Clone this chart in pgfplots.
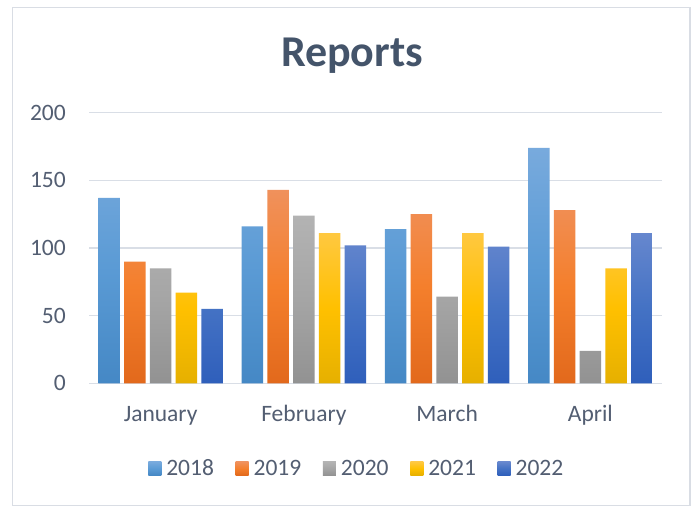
\documentclass[border=0pt]{standalone}
\usepackage{pgfplots}
\pgfplotsset{compat=1.18}
\usepackage{fontspec}
\setmainfont{Carlito}
\definecolor{txt}{HTML}{535E72}
\definecolor{titlec}{HTML}{44546A}
\definecolor{gridc}{HTML}{D9DEE6}
\definecolor{framec}{HTML}{D9DDE4}
\definecolor{aT}{HTML}{78AADD}\definecolor{aM}{HTML}{5B9BD5}\definecolor{aB}{HTML}{4588C5}
\definecolor{bT}{HTML}{F0915C}\definecolor{bM}{HTML}{F47F2C}\definecolor{bB}{HTML}{E2691C}
\definecolor{cT}{HTML}{B3B3B3}\definecolor{cM}{HTML}{A5A5A5}\definecolor{cB}{HTML}{929292}
\definecolor{dT}{HTML}{FFC840}\definecolor{dM}{HTML}{FFC000}\definecolor{dB}{HTML}{E6B000}
\definecolor{eT}{HTML}{6687CE}\definecolor{eM}{HTML}{4472C4}\definecolor{eB}{HTML}{2F5FBB}
\begin{document}
\begin{tikzpicture}[x=1bp,y=1bp]
\useasboundingbox (0,0) rectangle (694,508);
\fill[white] (0,0) rectangle (694,508);
\draw[framec, line width=1.3bp] (12.7,2.3) rectangle (690,500.5);
\node[anchor=base, font=\bfseries\fontsize{44bp}{52bp}\selectfont, text=titlec, inner sep=0pt] at (352,441) {Reports};
\begin{axis}[
  at={(89bp,124.7bp)}, anchor=south west, scale only axis,
  width=573bp, height=270.6bp,
  ymin=0, ymax=200, ytick={0,50,...,200},
  xmin=-0.5, xmax=3.5, xtick={0,1,2,3},
  xticklabels={January,February,March,April},
  enlargelimits=false,
  ybar=4.2bp, bar width=21.5bp,
  axis line style={draw=none}, major tick length=0pt,
  ymajorgrids, grid style={gridc, line width=1.5bp},
  tick label style={font=\fontsize{23.5bp}{28bp}\selectfont, text=txt},
  /pgf/number format/assume math mode=true,
  yticklabel style={anchor=east, inner sep=0pt, xshift=-23bp},
  xticklabel style={anchor=base, inner sep=0pt, yshift=-38.4bp},
  legend columns=5,
  legend style={at={(axis description cs:0.4656,-0.3156)}, anchor=center,
    draw=none, fill=none, font=\fontsize{23.5bp}{28bp}\selectfont, text=txt,
    inner sep=0pt, outer sep=0pt, nodes={inner sep=0pt, anchor=base west},
    /tikz/every odd column/.append style={column sep=5bp},
    /tikz/every even column/.append style={column sep=21.7bp}},
  legend image code/.code={\fill[#1] (0bp,0.7bp) rectangle (13bp,14bp);},
]
\addplot[draw=none, top color=aT, bottom color=aB, middle color=aM] coordinates {(0,137) (1,116) (2,114) (3,174)};
\addplot[draw=none, top color=bT, bottom color=bB, middle color=bM] coordinates {(0,90) (1,143) (2,125) (3,128)};
\addplot[draw=none, top color=cT, bottom color=cB, middle color=cM] coordinates {(0,85) (1,124) (2,64) (3,24)};
\addplot[draw=none, top color=dT, bottom color=dB, middle color=dM] coordinates {(0,67) (1,111) (2,111) (3,85)};
\addplot[draw=none, top color=eT, bottom color=eB, middle color=eM] coordinates {(0,55) (1,102) (2,101) (3,111)};
\legend{2018,2019,2020,2021,2022}
\end{axis}
\end{tikzpicture}
\end{document}
